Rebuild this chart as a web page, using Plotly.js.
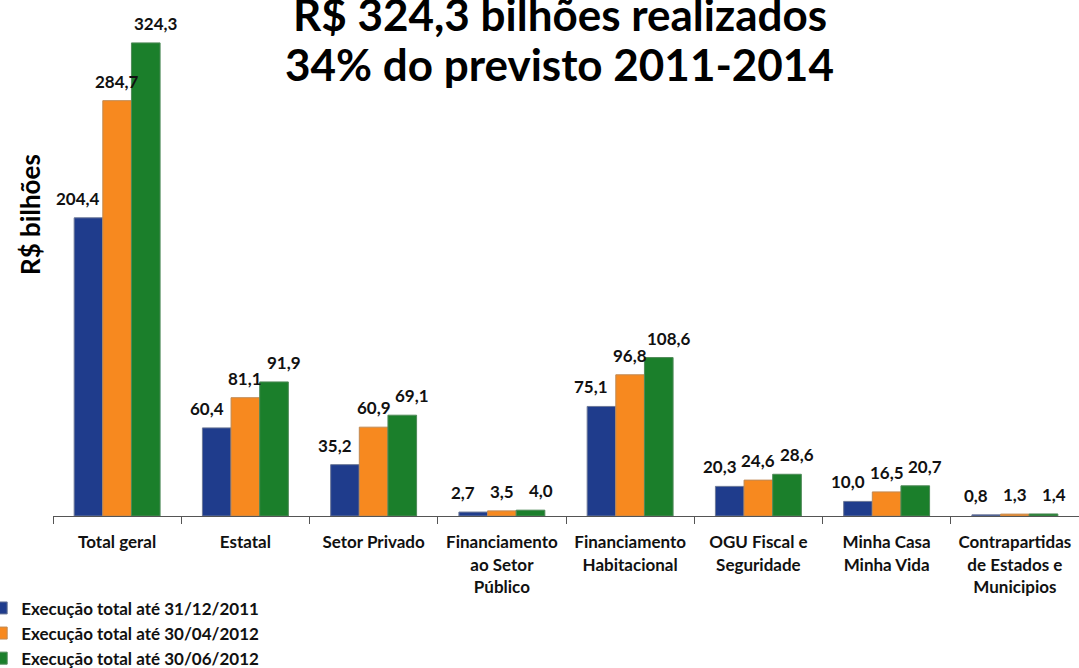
<!DOCTYPE html>
<html>
<head>
<meta charset="utf-8">
<script src="https://cdn.plot.ly/plotly-3.0.1.min.js"></script>
<style>html,body{margin:0;padding:0;background:#fff;}#chart{width:1079px;height:668px;}</style>
</head>
<body>
<div id="chart"></div>
<script>
const categories = ["Total geral","Estatal","Setor Privado","Financiamento<br>ao Setor<br>Público","Financiamento<br>Habitacional","OGU Fiscal e<br>Seguridade","Minha Casa<br>Minha Vida","Contrapartidas<br>de Estados e<br>Municipios"];
const seriesNames = ["Execução total até 31/12/2011","Execução total até 30/04/2012","Execução total até 30/06/2012"];
const exec2011_12 = [204.4, 60.4, 35.2, 2.7, 75.1, 20.3, 10.0, 0.8];
const exec2012_04 = [284.7, 81.1, 60.9, 3.5, 96.8, 24.6, 16.5, 1.3];
const exec2012_06 = [324.3, 91.9, 69.1, 4.0, 108.6, 28.6, 20.7, 1.4];
const titleLines = ["R$ 324,3 bilhões realizados", "34% do previsto 2011-2014"];
const yTitle = "R$ bilhões";

const colors = ["#1f3c8c", "#f7891f", "#1b7f2b"];
const lineColors = ["#6c7898", "#c08a55", "#4f8a58"];
const FONT = "Lato, 'Open Sans', sans-serif";
const series = [exec2011_12, exec2012_04, exec2012_06];
const bargap = 0.33;
const bw = (1 - bargap) / 3;
const fmt = v => v.toFixed(1).replace('.', ',');

const traces = series.map((vals, s) => ({
  type: 'bar',
  name: seriesNames[s],
  x: categories,
  y: vals,
  marker: {color: colors[s], line: {color: lineColors[s], width: 1}},
  hoverinfo: 'none'
}));

const annotations = [];
series.forEach((vals, s) => {
  vals.forEach((v, i) => {
    annotations.push({
      x: i + (s - 1) * bw, y: v, xref: 'x', yref: 'y',
      text: fmt(v), showarrow: false, yanchor: 'bottom',
      xshift: (s - 1) * 10, yshift: 7,
      font: {family: FONT, size: 17, color: '#111', weight: 'bold'}
    });
  });
});
annotations.push({
  xref: 'paper', yref: 'paper', x: 0.494, y: 1, yanchor: 'middle', yshift: 6,
  text: titleLines[0], showarrow: false,
  font: {family: FONT, size: 44, color: '#000', weight: 'bold'}
});
annotations.push({
  xref: 'paper', yref: 'paper', x: 0.494, y: 1, yanchor: 'middle', yshift: -44,
  text: titleLines[1], showarrow: false,
  font: {family: FONT, size: 44, color: '#000', weight: 'bold'}
});
annotations.push({
  xref: 'paper', yref: 'paper', x: 0, y: 1, xshift: -23, yshift: -195,
  xanchor: 'center', yanchor: 'middle', textangle: -90,
  text: yTitle, showarrow: false,
  font: {family: FONT, size: 26, color: '#000', weight: 'bold'}
});

const layout = {
  width: 1079, height: 668,
  margin: {l: 53, r: 0, t: 20, b: 152, autoexpand: false},
  paper_bgcolor: '#fff', plot_bgcolor: '#fff',
  barmode: 'group', bargap: bargap, bargroupgap: 0,
  font: {family: FONT, color: '#111'},
  showlegend: true,
  legend: {
    x: -0.07, y: -0.15, xanchor: 'left', yanchor: 'top',
    orientation: 'v', bgcolor: 'rgba(0,0,0,0)',
    font: {family: FONT, size: 17, color: '#111', weight: 'bold'},
    tracegroupgap: 0, itemwidth: 30
  },
  xaxis: {
    type: 'category', tickson: 'boundaries', ticks: 'outside', ticklen: 7,
    tickcolor: '#555', showline: true, linecolor: '#555', linewidth: 1,
    showgrid: false, zeroline: false, ticklabelstandoff: 11,
    tickfont: {family: FONT, size: 17, color: '#111', weight: 'bold'},
    fixedrange: true
  },
  yaxis: {
    range: [0, 340], visible: false, showgrid: false, zeroline: false, fixedrange: true
  },
  annotations: annotations
};

Plotly.newPlot('chart', traces, layout, {displayModeBar: false, staticPlot: true});
</script>
</body>
</html>
